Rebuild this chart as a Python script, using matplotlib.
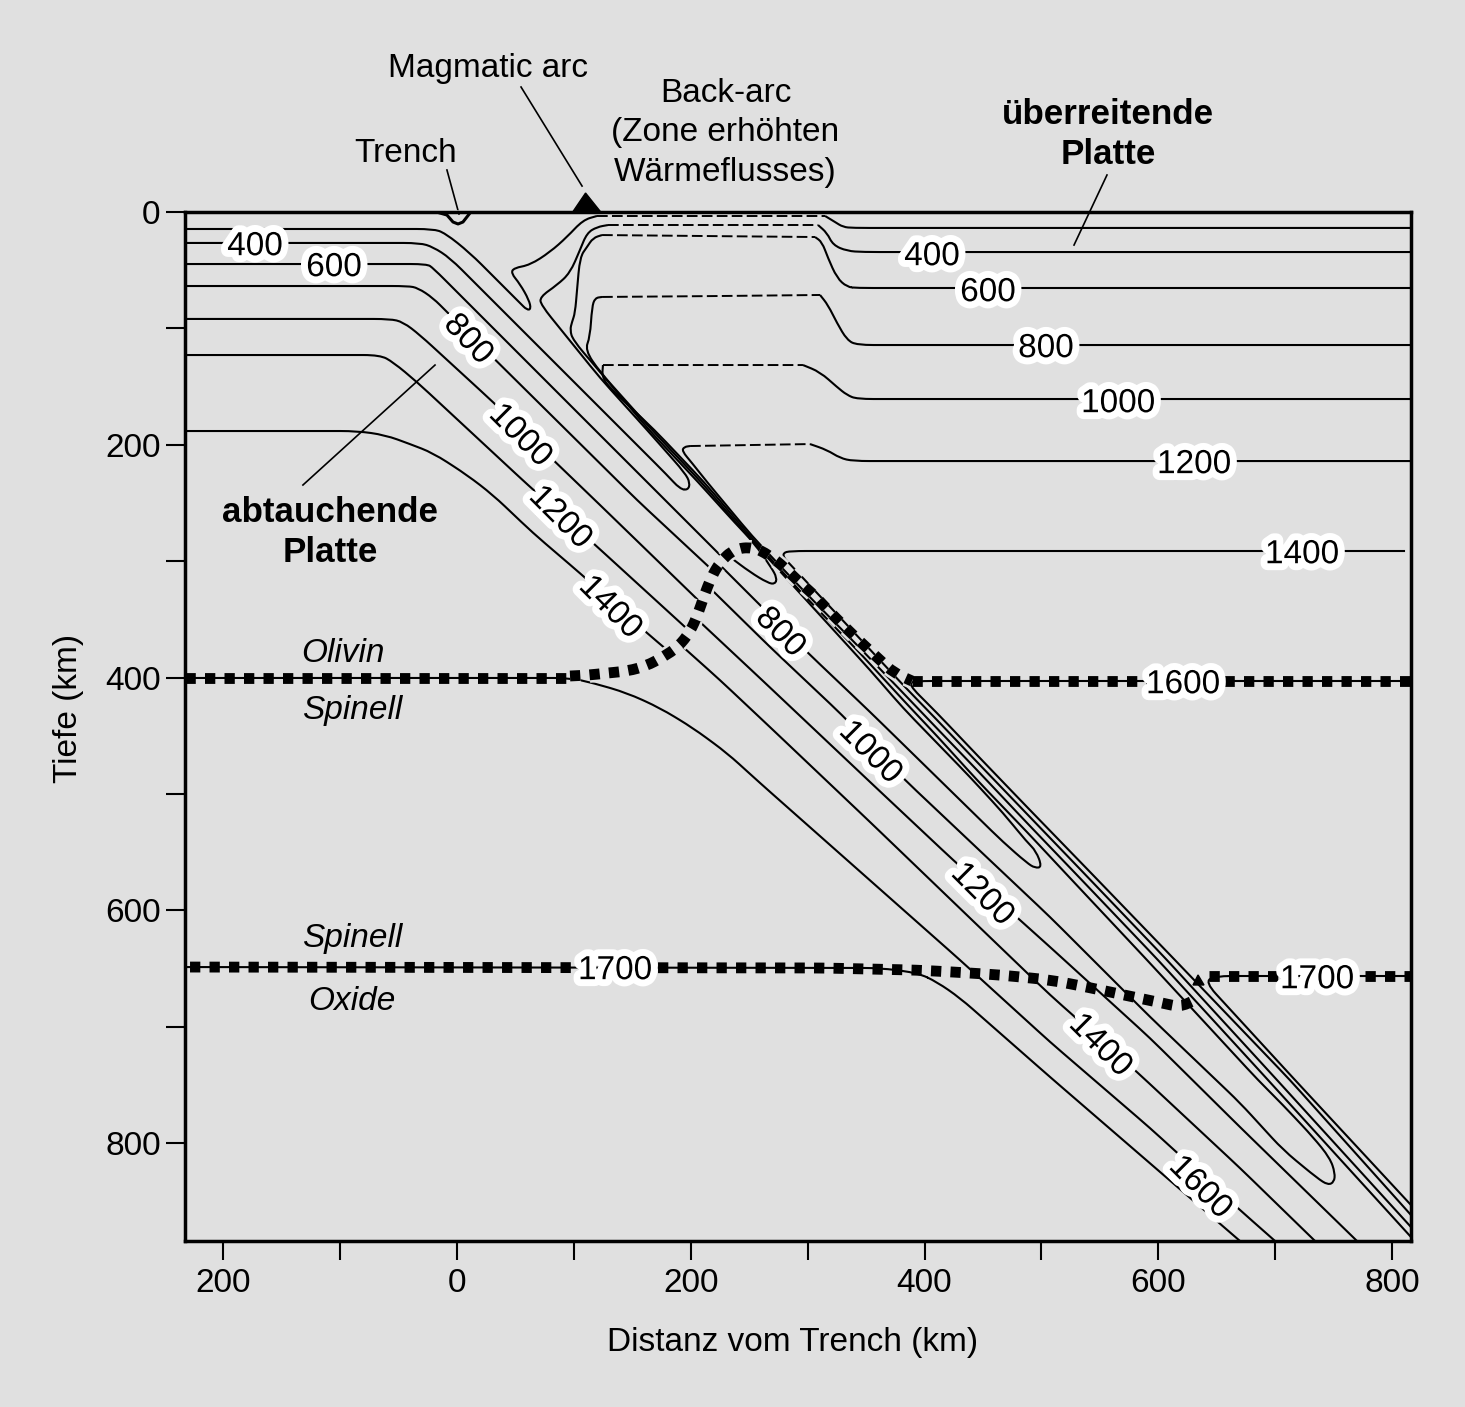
import numpy as np
import matplotlib
matplotlib.use("Agg")
import matplotlib.pyplot as plt
from matplotlib.path import Path
from matplotlib.patches import PathPatch, Polygon
import matplotlib.patheffects as pe

plt.rcParams["font.family"] = ["Liberation Sans", "DejaVu Sans"]
BG = "#e0e0e0"

# isotherms, km: (x, y)
x200 = [-232.7,-20.5,-10.3,11.1,53.9,59.9,63.3,61.6,53.9,46.2,48.8,62.5,79.6,94.1,107.8,119.8]
y200 = [14.6,14.6,18.0,35.2,78.2,84.2,83.4,75.6,61.9,52.4,48.1,45.5,34.4,21.5,6.9,3.4]
x200d = [119.8,314.9]
y200d = [3.4,3.4]
x200r = [314.9,323.4,330.3,338.8,816.2]
y200r = [3.4,8.6,12.9,13.7,13.7]

x400 = [-232.7,-31.7,-20.5,-6.0,179.7,190.8,197.6,199.4,195.1,162.6,122.4,71.9,71.0,85.6,96.7,105.2,111.2,119.8,129.2]
y400 = [26.6,26.6,30.1,39.5,226.0,238.0,238.9,232.9,224.3,187.3,142.6,79.9,73.0,62.7,52.4,32.7,18.0,12.9,11.2]
x400d = [129.2,308.9]
y400d = [11.2,11.2]
x400r = [308.9,316.6,321.7,333.7,347.4,816.2]
y400r = [11.2,18.0,28.4,33.5,34.4,34.4]

x600a = [-232.7,-25.7,-20.5,105.2,178.0,225.0]
y600a = [44.7,44.7,48.1,174.4,247.5,294.7]
x600b = [233.6,250.7,266.1,272.1,273.8,268.7,254.1,237.9,206.2,164.3,122.4,99.2,96.7,98.4,101.0,102.7,105.2,111.2,116.4,124.1]
y600b = [296.5,309.4,318.8,319.7,314.5,305.1,284.4,267.2,232.0,187.3,137.5,110.0,101.4,94.5,86.8,67.0,38.7,30.1,22.3,19.8]
x600d = [124.1,207.6,306.3]
y600d = [19.8,20.6,21.5]
x600r = [306.3,312.3,317.4,325.1,333.7,342.2,816.2]
y600r = [21.5,25.8,39.5,56.7,64.4,65.3,65.3]

x800a = [-232.7,-41.9,-33.4,-20.5,-8.6,154.0,216.5]
y800a = [63.6,63.6,65.3,73.9,85.9,247.5,305.9]
x800b = [226.7,259.2,300.3,353.4,467.2,487.7,494.6,500.5,495.4,487.7,467.2,438.9,410.7,381.6,353.4,290.9,249.0,208.8,166.8,122.4,109.5,113.8,115.5,118.1,124.1]
y800b = [305.1,337.7,378.9,429.6,541.4,559.4,563.7,562.8,549.1,541.4,516.4,485.5,456.3,426.2,393.6,324.8,278.4,232.0,187.3,137.5,118.6,107.4,81.6,73.9,73.0]
x800d = [124.1,224.5,310.6]
y800d = [73.0,72.2,71.3]
x800r = [310.6,317.4,325.1,333.7,342.2,816.2]
y800r = [71.3,79.9,95.4,110.0,114.3,114.3]

x1000a = [-232.7,-57.3,-46.2,-31.7,30.8,122.4,206.2]
y1000a = [91.9,91.9,94.5,105.7,163.3,251.8,333.4]
x1000b = [218.1,267.8,329.4,383.3,507.4,593.0,670.0,706.8,735.9,745.2,750.4,751.2,746.9,732.4,706.7,685.3,590.4,524.5,487.7,444.9,410.7,383.3,344.8,292.6,250.7,211.3,169.0,130.9,124.1,124.9]
y1000b = [324.8,373.8,432.2,488.1,605.8,691.7,765.6,806.0,830.1,836.1,833.5,825.8,812.9,794.9,767.4,745.9,642.8,572.3,532.8,488.1,450.3,421.1,379.0,324.8,278.4,232.0,187.3,151.2,141.8,131.5]
x1000d = [124.9,222.0,296.0]
y1000d = [131.5,131.5,131.5]
x1000r = [296.0,310.6,325.1,333.7,342.2,816.2]
y1000r = [131.5,137.5,150.4,157.3,160.7,160.7]

x1200a = [-232.7,-65.9,-54.8,-34.2,60.7,116.4,195.1]
y1200a = [122.9,122.9,128.9,146.1,234.6,284.4,356.6]
x1200b = [207.9,261.0,353.4,424.4,507.4,592.9,669.9,770.0]
y1200b = [352.3,402.2,489.8,556.8,631.6,709.8,786.3,884.2]
x1200c = [199.4,194.3,192.5,201.1,213.9,252.4,295.9,344.8,383.3,410.7,444.9,487.7,528.8,599.8,693.9,816.2]
y1200c = [201.1,201.9,205.4,215.7,232.0,278.4,324.8,374.7,415.0,443.8,479.5,525.0,568.0,642.8,745.9,880.8]
x1200d = [199.4,302.0]
y1200d = [201.1,199.4]
x1200r = [302.0,316.6,327.7,338.8,816.2]
y1200r = [199.4,204.5,211.4,214.0,214.0]

x1400a = [-232.7,-85.6,-61.6,-40.2,-20.5,8.6,30.8,65.0,107.0,162.6,179.7]
y1400a = [188.2,188.2,191.6,199.4,207.1,226.0,243.2,275.8,311.9,361.8,376.4]
x1400b = [193.4,225.0,270.4,353.4,507.4,581.8,669.9,734.1]
y1400b = [373.8,402.2,445.1,524.2,672.8,739.0,821.5,884.2]
x1400c = [811.1,284.9,279.0,279.8,283.2,336.2,383.3,410.7,444.9,487.7,533.0,607.5,701.6,816.2]
y1400c = [291.3,291.3,293.0,297.3,300.8,357.5,408.2,436.5,472.6,517.3,564.6,642.8,745.9,872.2]

x1600a = [-232.7,96.7,116.4,145.5,173.7,201.9,231.0,259.2,430.4,507.4,592.9,669.9,699.9]
y1600a = [400.4,400.4,404.7,413.3,426.2,443.4,464.9,490.6,642.8,713.2,787.1,857.6,884.2]
x1600b = [816.2,391.9,385.9,410.7,444.9,487.7,541.6,614.3,712.7,816.2]
y1600b = [403.0,403.0,405.6,430.5,466.6,511.3,567.1,642.8,745.9,861.9]

x1700a = [-232.7,361.9,394.4,410.7,430.4,507.4,669.9]
y1700a = [648.8,649.6,653.9,661.7,675.4,743.3,884.2]
x1700b = [816.2,648.5,640.0,717.0,816.2]
y1700b = [656.5,656.5,661.7,745.9,853.3]

# phase boundaries
x410a = [-232.7,96.7]
y410a = [400.4,400.4]
x410c = [96.7,112.9,129.2,146.3,161.7,176.3,189.1,199.4,206.2,211.3,217.3,225.0,237.0,253.3,266.9,279.8,291.8,303.7,314.9,326.8,338.0,349.9,361.9,373.9,389.3]
y410c = [398.7,397.9,396.1,394.4,390.1,382.4,373.8,360.9,345.4,330.0,314.5,300.8,289.6,287.9,294.7,305.1,317.1,327.4,339.4,351.5,362.6,373.8,385.0,396.1,403.0]
x410b = [389.3,816.2]
y410b = [403.0,403.0]
x660a = [-228.4,312.3,392.7,425.2,464.6,507.4,539.0,570.7,603.2,618.6,631.4]
y660a = [648.8,649.6,651.4,653.1,655.6,659.9,666.0,672.8,679.7,683.1,677.1]
x660b = [643.4,816.2]
y660b = [656.5,656.5]

# contour labels: value, x, y, rotation
label_vals = ["400","600","800","1000","1200","1400","800","1000","1200","1400","1600",
              "400","600","800","1000","1200","1400","1600","1700","1700"]
label_x = [-172.8,-105.2,9.4,53.9,88.1,130.9,276.4,353.4,449.2,550.2,635.7,
           406.4,454.3,503.9,565.6,630.6,723.0,621.2,135.2,735.8]
label_y = [29.8,47.8,109.7,192.3,262.7,340.0,361.5,464.6,586.6,716.4,838.4,
           38.4,69.3,117.4,164.7,217.1,294.5,406.2,651.9,659.7]
label_rot = [0,0,-47,-45,-45,-45,-45,-45,-45,-45,-45,0,0,0,0,0,0,0,0,0]

trench_x = [-14.5,-8.6,-3.4,0.9,5.1,11.1]
trench_y = [0.9,2.6,8.6,10.3,8.6,0.9]

xticks = [-200,-100,0,100,200,300,400,500,600,700,800]
xticklabels = ["200","","0","","200","","400","","600","","800"]
yticks = [0,100,200,300,400,500,600,700,800]
yticklabels = ["0","","200","","400","","600","","800"]


def rounded(xs, ys, r=14.0):
    # polyline with the corners rounded off, so bends do not look kinked
    p = np.column_stack([xs, ys]).astype(float)
    verts = [p[0]]
    codes = [Path.MOVETO]
    for i in range(1, len(p) - 1):
        a, b = p[i - 1] - p[i], p[i + 1] - p[i]
        la, lb = np.hypot(*a), np.hypot(*b)
        verts += [p[i] + a / la * min(r, la / 2), p[i], p[i] + b / lb * min(r, lb / 2)]
        codes += [Path.LINETO, Path.CURVE3, Path.CURVE3]
    verts.append(p[-1])
    codes.append(Path.LINETO)
    return Path(verts, codes)


def draw(ax, xs, ys, ls="-", lw=1.5, **kw):
    ax.add_patch(PathPatch(rounded(xs, ys), fill=False, edgecolor="black", lw=lw,
                           linestyle=ls, capstyle="butt", joinstyle="round", **kw))


fig = plt.figure(figsize=(14.65, 14.07), dpi=100, facecolor=BG)
ax = fig.add_axes([185 / 1465, 1 - 1241 / 1407, 1226 / 1465, 1029 / 1407], facecolor=BG)
ax.set_xlim(-232.7, 816.2)
ax.set_ylim(884.2, 0)

solid = [(x200,y200),(x200r,y200r),(x400,y400),(x400r,y400r),(x600a,y600a),(x600b,y600b),(x600r,y600r),
         (x800a,y800a),(x800b,y800b),(x800r,y800r),(x1000a,y1000a),(x1000b,y1000b),(x1000r,y1000r),
         (x1200a,y1200a),(x1200b,y1200b),(x1200c,y1200c),(x1200r,y1200r),(x1400a,y1400a),(x1400b,y1400b),
         (x1400c,y1400c),(x1600a,y1600a),(x1600b,y1600b),(x1700a,y1700a),(x1700b,y1700b)]
for xs, ys in solid:
    draw(ax, xs, ys, zorder=2)

dashed = [(x200d,y200d),(x400d,y400d),(x600d,y600d),(x800d,y800d),(x1000d,y1000d),(x1200d,y1200d)]
for xs, ys in dashed:
    draw(ax, xs, ys, ls=(0, (5.5, 2.2)), lw=1.4, zorder=2)

# thick dotted phase boundaries
dots = (0, (0.95, 0.85))
draw(ax, x410c, y410c, ls=dots, lw=7.8, zorder=4,
     path_effects=[pe.Stroke(linewidth=11.5, foreground=BG), pe.Normal()])
for xs, ys in [(x410a,y410a),(x410b,y410b),(x660a,y660a),(x660b,y660b)]:
    draw(ax, xs, ys, ls=dots, lw=7.8, zorder=4)
ax.add_patch(Polygon([[629.7,664.2],[639.1,664.2],[634.0,655.6]], closed=True, color="black", zorder=5))

# trench and volcano on the surface
ax.plot([-14.5, 11.1], [0, 0], color=BG, lw=2.6, clip_on=False, zorder=6)
ax.plot(trench_x, trench_y, color="black", lw=2.2, clip_on=False, zorder=7)
ax.add_patch(Polygon([[99.0,0],[123.0,0],[110.0,-16.3]], closed=True, color="black", clip_on=False, zorder=6))

# leader lines
for lx, ly in [([-8.6,1.7],[-36.1,1.7]), ([54.8,107.0],[-107.4,-22.3]),
               ([556.1,527.9],[-31.8,28.4]), ([-131.8,-18.8],[234.6,131.5])]:
    ax.plot(lx, ly, color="black", lw=1.2, clip_on=False, zorder=3)

for val, lx, ly, rot in zip(label_vals, label_x, label_y, label_rot):
    ax.text(lx, ly, val, fontsize=24, ha="center", va="center", rotation=rot,
            rotation_mode="anchor", zorder=8,
            path_effects=[pe.withStroke(linewidth=10, foreground="white")])

for s in ax.spines.values():
    s.set_linewidth(2.5)
    s.set_zorder(6)
ax.set_xticks(xticks)
ax.set_xticklabels(xticklabels)
ax.set_yticks(yticks)
ax.set_yticklabels(yticklabels)
ax.tick_params(axis="both", length=13.5, width=1.5, labelsize=24, direction="out")
ax.tick_params(axis="x", pad=6)
ax.tick_params(axis="y", pad=4)


def txt(px, py, s, size=24, **kw):
    fig.text(px / 1465, 1 - py / 1407, s, fontsize=size, ha="center", va="center", **kw)


txt(488, 68, "Magmatic arc")
txt(406, 153, "Trench")
txt(726, 93, "Back-arc")
txt(725, 133, "(Zone erhöhten")
txt(725, 173, "Wärmeflusses)")
txt(1108, 115, "überreitende", size=25.2, fontweight="bold")
txt(1108, 155, "Platte", size=25.2, fontweight="bold")
txt(330, 513, "abtauchende", size=25.2, fontweight="bold")
txt(330, 553, "Platte", size=25.2, fontweight="bold")
txt(343, 653, "Olivin", fontstyle="italic")
txt(352, 711, "Spinell", fontstyle="italic")
txt(352, 939, "Spinell", fontstyle="italic")
txt(352, 1001, "Oxide", fontstyle="italic")
txt(69, 708, "Tiefe (km)", rotation=90)
txt(793, 1342, "Distanz vom Trench (km)")

fig.savefig("out.png", dpi=100, facecolor=BG)
